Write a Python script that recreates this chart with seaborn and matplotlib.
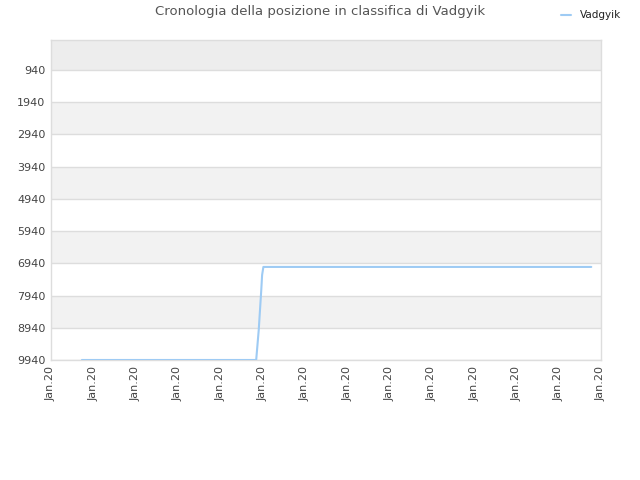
import pandas as pd
import numpy as np
import matplotlib
matplotlib.use("Agg")
import matplotlib.pyplot as plt
import seaborn as sns

# Dati (asse x in unita' di tick)
giorni = [0.73, 4.85, 4.88, 4.91, 4.94, 4.97, 4.99, 5.02, 12.77]
posizioni = [9940, 9940, 9474, 9008, 8387, 7766, 7300, 7052, 7052]
etichette_x = ["Jan.20"] * 14
ticks_y = [940, 1940, 2940, 3940, 4940, 5940, 6940, 7940, 8940, 9940]
nome = "Vadgyik"

df = pd.DataFrame({"giorno": giorni, "posizione": posizioni, "giocatore": nome})

sns.set_style("white")
plt.rcParams["font.family"] = ["DejaVu Sans"]

fig = plt.figure(figsize=(6.4, 4.8), dpi=100)
ax = fig.add_axes([51 / 640, 120 / 480, 550 / 640, 320 / 480])

y_top = 10
y_bottom = 9940

# Bande alternate
for i in range(len(ticks_y) - 1):
    lo, hi = ticks_y[i], ticks_y[i + 1]
    if (len(ticks_y) - 2 - i) % 2 == 1:
        ax.axhspan(lo, hi, color="#f2f2f2", zorder=0, lw=0)
ax.axhspan(y_top, ticks_y[0], color="#ededed", zorder=0, lw=0)

for t in ticks_y:
    ax.axhline(t, color="#dddddd", lw=1, zorder=1)

sns.lineplot(data=df, x="giorno", y="posizione", hue="giocatore",
             palette=["#9ecbf4"], lw=1.5, ax=ax, zorder=3, legend=False)

ax.set_xlim(0, 13)
ax.set_ylim(y_bottom, y_top)
ax.set_xticks(range(len(etichette_x)))
ax.set_xticklabels(etichette_x, rotation=90, fontsize=8, color="#444444")
ax.set_yticks(ticks_y)
ax.set_yticklabels([str(t) for t in ticks_y], fontsize=8, color="#444444")
ax.tick_params(length=0, pad=4)
ax.set_xlabel("")
ax.set_ylabel("")
for s in ax.spines.values():
    s.set_color("#dddddd")
    s.set_linewidth(1)

fig.text(0.5, 0.975, "Cronologia della posizione in classifica di Vadgyik",
         ha="center", va="center", fontsize=9.5, color="#555555")

# Legenda
fig.lines.append(plt.Line2D([561 / 640, 571 / 640], [1 - 15 / 480, 1 - 15 / 480],
                            color="#9ecbf4", lw=1.5, transform=fig.transFigure))
fig.text(580 / 640, 1 - 15 / 480, nome, ha="left", va="center", fontsize=7.5, color="#222222")

fig.savefig("out.png", dpi=100)
